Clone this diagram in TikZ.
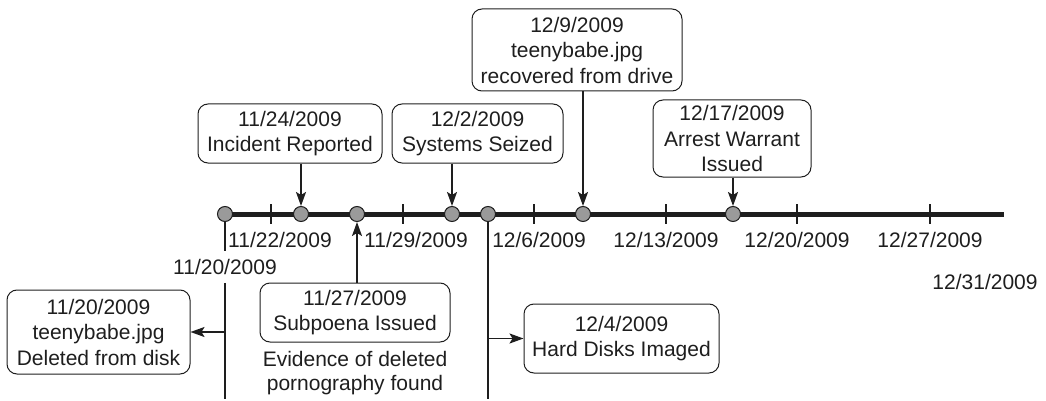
\documentclass[tikz,border=0pt]{standalone}
\usepackage{fontspec}
\setmainfont{Liberation Sans}
\usetikzlibrary{arrows.meta}
\definecolor{ink}{HTML}{1E1E1E}
\definecolor{dotgray}{HTML}{9A9A9A}
\begin{document}
\begin{tikzpicture}[x=1pt,y=-1pt,
  every node/.style={text=ink,font=\fontsize{21}{25.5}\selectfont},
  evbox/.style={draw=ink,line width=1pt,rounded corners=10pt,align=center,inner sep=0pt},
  dot/.style={circle,draw=ink,line width=1pt,fill=dotgray,minimum size=15pt,inner sep=0pt},
  tickline/.style={draw=ink,line width=1.8pt},
  conn/.style={draw=ink,line width=1.8pt},
  arr/.style={conn,-{Stealth[length=14pt,width=10pt,inset=3pt]}},
  ticklabel/.style={inner sep=0pt}]
\useasboundingbox (0,0) rectangle (1046,401);
% positions
\coordinate (p20) at (225,214);
\coordinate (p24) at (301,214);
\coordinate (p27) at (357,214);
\coordinate (p2) at (452,214);
\coordinate (p4) at (488,214);
\coordinate (p9) at (583,214);
\coordinate (p17) at (733,214);
\coordinate (tend) at (1004,214);
\coordinate (b20) at (225,399);
\coordinate (b4) at (488,399);
% timeline
\draw[ink,line width=5pt] (p20) -- (tend);
\foreach \x in {271,403,534,666,797,930}{
  \draw[tickline] (\x,204) -- (\x,224);
}
% tick labels
\node[ticklabel] (l22) at (280,240) {11/22/2009};
\node[ticklabel] (l29) at (416,240) {11/29/2009};
\node[ticklabel] (l6) at (539,240) {12/6/2009};
\node[ticklabel] (l13) at (666,240) {12/13/2009};
\node[ticklabel] (l20b) at (797,240) {12/20/2009};
\node[ticklabel] (l27) at (930,240) {12/27/2009};
\node[inner sep=8pt] (l20) at (225,267) {11/20/2009};
\node[ticklabel] (l31) at (985,282) {12/31/2009};
% vertical lines
\draw[conn] (p20) -- (l20.north);
\draw[conn] (l20.south) -- (b20);
\draw[conn] (p4) -- (b4);
% dots
\node[dot] (c20) at (p20) {};
\node[dot] (c24) at (p24) {};
\node[dot] (c27) at (p27) {};
\node[dot] (c2) at (p2) {};
\node[dot] (c4) at (p4) {};
\node[dot] (c9) at (p9) {};
\node[dot] (c17) at (p17) {};
% boxes
\node[evbox,minimum width=184pt,minimum height=59pt] (A) at (290,133.5) {11/24/2009\\Incident Reported};
\node[evbox,minimum width=171pt,minimum height=59pt] (B) at (477.5,133.5) {12/2/2009\\Systems Seized};
\node[evbox,minimum width=210pt,minimum height=82pt] (C) at (577,50) {12/9/2009\\teenybabe.jpg\\recovered from drive};
\node[evbox,minimum width=158pt,minimum height=77pt] (D) at (732,138.5) {12/17/2009\\Arrest Warrant\\Issued};
\node[evbox,minimum width=183pt,minimum height=84pt] (E) at (98.5,332) {11/20/2009\\teenybabe.jpg\\Deleted from disk};
\node[evbox,minimum width=190pt,minimum height=59pt] (F) at (355,312.5) {11/27/2009\\Subpoena Issued};
\node[evbox,minimum width=195pt,minimum height=69pt] (G) at (621.5,338.5) {12/4/2009\\Hard Disks Imaged};
\node[align=center,inner sep=0pt,font=\fontsize{21}{24}\selectfont] (ev) at (355,373) {Evidence of deleted\\pornography found};
% arrows
\draw[arr] (c24 |- A.south) -- (c24);
\draw[arr] (c2 |- B.south) -- (c2);
\draw[arr] (c9 |- C.south) -- (c9);
\draw[arr] (c17 |- D.south) -- (c17);
\draw[arr] (c27 |- F.north) -- (c27);
\draw[arr] (c20 |- E.east) -- (E.east);
\draw[arr] (c4 |- G.west) -- (G.west);
\end{tikzpicture}
\end{document}
